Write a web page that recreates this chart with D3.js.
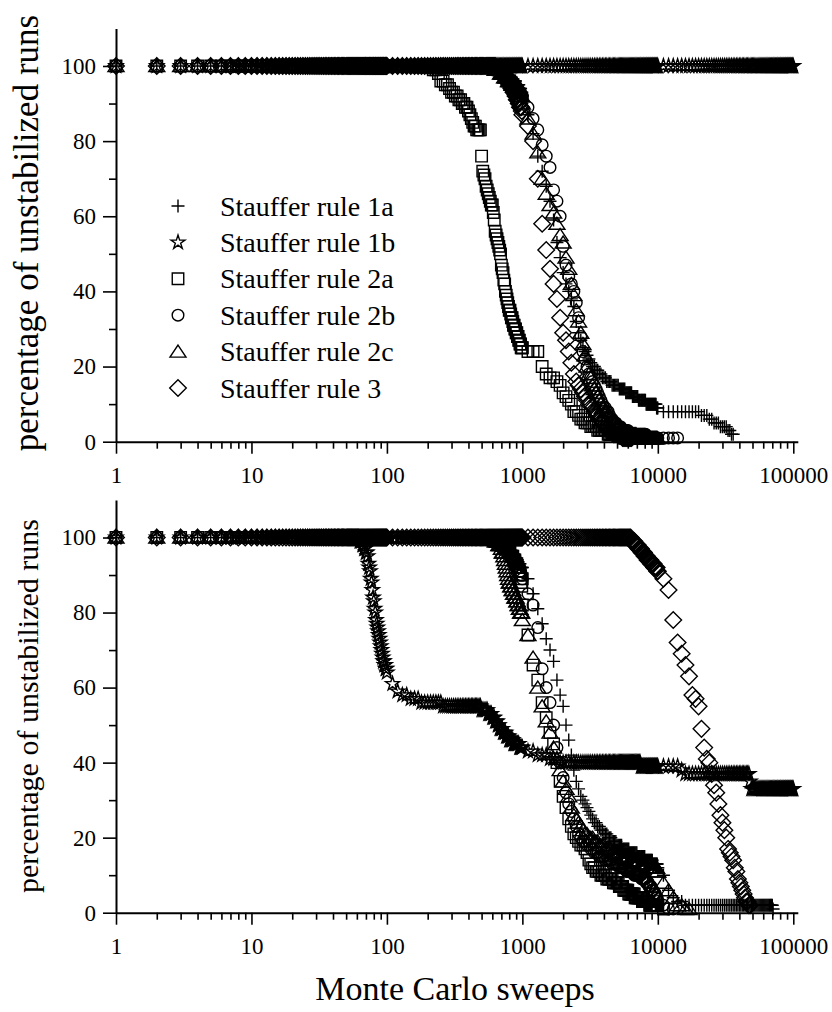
<!DOCTYPE html>
<html>
<head>
<meta charset="utf-8">
<script src="https://cdn.jsdelivr.net/npm/d3@7"></script>
<style>
  body { margin: 0; background: #fff; }
  svg { display: block; }
</style>
</head>
<body>
<div id="chart"></div>
<script>
// Monte Carlo sweeps at which the runs were sampled (step grows tenfold each decade)
const sweeps = [
  1,2,3,4,5,6,7,8,9,
  10,11,12,13,14,15,16,17,18,19,20,21,22,23,24,25,26,27,28,29,
  30,31,32,33,34,35,36,37,38,39,40,41,42,43,44,45,46,47,48,49,
  50,51,52,53,54,55,56,57,58,59,60,61,62,63,64,65,66,67,68,69,
  70,71,72,73,74,75,76,77,78,79,80,81,82,83,84,85,86,87,88,89,
  90,91,92,93,94,95,96,97,98,99,
  100,110,120,130,140,150,160,170,180,190,200,210,220,230,240,250,260,270,280,290,
  300,310,320,330,340,350,360,370,380,390,400,410,420,430,440,450,460,470,480,490,
  500,510,520,530,540,550,560,570,580,590,600,610,620,630,640,650,660,670,680,690,
  700,710,720,730,740,750,760,770,780,790,800,810,820,830,840,850,860,870,880,890,
  900,910,920,930,940,950,960,970,980,990,
  1000,1100,1200,1300,1400,1500,1600,1700,1800,1900,2000,2100,2200,2300,2400,2500,2600,2700,2800,2900,
  3000,3100,3200,3300,3400,3500,3600,3700,3800,3900,4000,4100,4200,4300,4400,4500,4600,4700,4800,4900,
  5000,5100,5200,5300,5400,5500,5600,5700,5800,5900,6000,6100,6200,6300,6400,6500,6600,6700,6800,6900,
  7000,7100,7200,7300,7400,7500,7600,7700,7800,7900,8000,8100,8200,8300,8400,8500,8600,8700,8800,8900,
  9000,9100,9200,9300,9400,9500,9600,9700,9800,9900,
  10000,11000,12000,13000,14000,15000,16000,17000,18000,19000,20000,21000,22000,23000,24000,25000,26000,27000,28000,29000,
  30000,31000,32000,33000,34000,35000,36000,37000,38000,39000,40000,41000,42000,43000,44000,45000,46000,47000,48000,49000,
  50000,51000,52000,53000,54000,55000,56000,57000,58000,59000,60000,61000,62000,63000,64000,65000,66000,67000,68000,69000,
  70000,71000,72000,73000,74000,75000,76000,77000,78000,79000,80000,81000,82000,83000,84000,85000,86000,87000,88000,89000,
  90000,91000,92000,93000,94000,95000,96000,97000,98000,99000,
  100000
];

// ===== upper panel: percentage of unstabilized runs =====
const top1a = [
  100,100,100,100,100,100,100,100,100,
  // 10-99
  100,100,100,100,100,100,100,100,100,100, 100,100,100,100,100,100,100,100,100,100,
  100,100,100,100,100,100,100,100,100,100, 100,100,100,100,100,100,100,100,100,100,
  100,100,100,100,100,100,100,100,100,100, 100,100,100,100,100,100,100,100,100,100,
  100,100,100,100,100,100,100,100,100,100, 100,100,100,100,100,100,100,100,100,100,
  100,100,100,100,100,100,100,100,100,100,
  // 100-990
  100,100,100,100,100,100,100,100,100,100, 100,100,100,100,100,100,100,100,100,100,
  100,100,100,100,100,100,100,100,100,100, 100,100,100,100,100,100,100,100,100,100,
  100,100,100,100,100,100,100,100,100,100, 99,99,99,99,99,99,99,98,98,98,
  98,98,98,98,98,98,97,97,97,97, 97,97,97,97,96,96,96,96,96,96,
  95,95,95,95,95,94,94,94,93,93,
  // 1000-9900
  92,87,82,76,72,68,64,59,53,49, 45,42,40,38,36,32,29,27,25,24,
  23,22,21,20,20,19,19,18,18,17, 17,17,16,16,16,16,15,15,15,15,
  15,15,14,14,14,14,14,14,13,13, 13,13,13,13,13,12,12,12,12,12,
  12,12,11,11,11,11,11,11,11,11, 11,11,10,10,10,10,10,10,10,10,
  10,10,10,10,10,10,10,10,9,9,
  // 10000-
  9,8,8,8,8,8,8,8,8,8, 8,7,7,7,6,6,5,5,5,4,
  4,4,4,3,3,2,2
];
const top1b = [
  100,100,100,100,100,100,100,100,100,
  100,100,100,100,100,100,100,100,100,100, 100,100,100,100,100,100,100,100,100,100,
  100,100,100,100,100,100,100,100,100,100, 100,100,100,100,100,100,100,100,100,100,
  100,100,100,100,100,100,100,100,100,100, 100,100,100,100,100,100,100,100,100,100,
  100,100,100,100,100,100,100,100,100,100, 100,100,100,100,100,100,100,100,100,100,
  100,100,100,100,100,100,100,100,100,100,
  100,100,100,100,100,100,100,100,100,100, 100,100,100,100,100,100,100,100,100,100,
  100,100,100,100,100,100,100,100,100,100, 100,100,100,100,100,100,100,100,100,100,
  100,100,100,100,100,100,100,100,100,100, 100,100,100,100,100,100,100,100,100,100,
  100,100,100,100,100,100,100,100,100,100, 100,100,100,100,100,100,100,100,100,100,
  100,100,100,100,100,100,100,100,100,100,
  100,100,100,100,100,100,100,100,100,100, 100,100,100,100,100,100,100,100,100,100,
  100,100,100,100,100,100,100,100,100,100, 100,100,100,100,100,100,100,100,100,100,
  100,100,100,100,100,100,100,100,100,100, 100,100,100,100,100,100,100,100,100,100,
  100,100,100,100,100,100,100,100,100,100, 100,100,100,100,100,100,100,100,100,100,
  100,100,100,100,100,100,100,100,100,100,
  100,100,100,100,100,100,100,100,100,100, 100,100,100,100,100,100,100,100,100,100,
  100,100,100,100,100,100,100,100,100,100, 100,100,100,100,100,100,100,100,100,100,
  100,100,100,100,100,100,100,100,100,100, 100,100,100,100,100,100,100,100,100,100,
  100,100,100,100,100,100,100,100,100,100, 100,100,100,100,100,100,100,100,100,100,
  100,100,100,100,100,100,100,100,100,100,
  100
];
const top2a = [
  100,100,100,100,100,100,100,100,100,
  100,100,100,100,100,100,100,100,100,100, 100,100,100,100,100,100,100,100,100,100,
  100,100,100,100,100,100,100,100,100,100, 100,100,100,100,100,100,100,100,100,100,
  100,100,100,100,100,100,100,100,100,100, 100,100,100,100,100,100,100,100,100,100,
  100,100,100,100,100,100,100,100,100,100, 100,100,100,100,100,100,100,100,100,100,
  100,100,100,100,100,100,100,100,100,100,
  // 100-990
  100,100,100,100,100,100,100,100,100,100, 100,100,99,99,98,96,96,95,95,94,
  93,93,92,92,91,91,90,90,89,89, 88,87,86,85,84,84,83,83,83,83,
  76,72,71,70,68,67,66,65,64,63, 63,61,59,56,55,54,53,52,51,50,
  47,46,45,43,42,40,39,38,37,36, 35,35,34,33,33,32,31,31,30,30,
  29,29,28,28,27,27,26,26,25,25,
  // 1000-
  25,24,24,24,20,18,17,17,16,15, 13,12,11,10,8,8,7,6,6,5,
  5,5,4,4,4,4,3,3,3,3, 3,3,3,2,2,2,2,2,2,2,
  2,2,2,2,2,2,1,1,1,1, 1,1,1,1,1,1,1,1,1,1,
  1,1,1,1,1,1
];
const top2b = [
  100,100,100,100,100,100,100,100,100,
  100,100,100,100,100,100,100,100,100,100, 100,100,100,100,100,100,100,100,100,100,
  100,100,100,100,100,100,100,100,100,100, 100,100,100,100,100,100,100,100,100,100,
  100,100,100,100,100,100,100,100,100,100, 100,100,100,100,100,100,100,100,100,100,
  100,100,100,100,100,100,100,100,100,100, 100,100,100,100,100,100,100,100,100,100,
  100,100,100,100,100,100,100,100,100,100,
  // 100-990
  100,100,100,100,100,100,100,100,100,100, 100,100,100,100,100,100,100,100,100,100,
  100,100,100,100,100,100,100,100,100,100, 100,100,100,100,100,100,100,100,100,100,
  100,100,100,100,100,100,100,100,100,100, 100,100,100,100,99,99,99,99,99,99,
  98,98,98,98,98,97,97,97,97,97, 96,96,96,96,96,95,95,95,95,95,
  94,94,94,94,93,93,93,93,92,92,
  // 1000-9900
  92,89,86,83,79,76,73,67,64,60, 52,47,44,42,40,37,33,28,24,22,
  20,18,17,16,15,14,13,12,11,10, 9,9,8,8,7,6,6,5,5,5,
  4,4,4,4,3,3,3,3,3,3, 3,2,2,2,2,2,2,2,2,2,
  2,2,2,2,2,2,2,2,2,2, 2,2,1,1,1,1,1,1,1,1,
  1,1,1,1,1,1,1,1,1,1,
  // 10000-
  1,1,1,1,1
];
const top2c = [
  100,100,100,100,100,100,100,100,100,
  100,100,100,100,100,100,100,100,100,100, 100,100,100,100,100,100,100,100,100,100,
  100,100,100,100,100,100,100,100,100,100, 100,100,100,100,100,100,100,100,100,100,
  100,100,100,100,100,100,100,100,100,100, 100,100,100,100,100,100,100,100,100,100,
  100,100,100,100,100,100,100,100,100,100, 100,100,100,100,100,100,100,100,100,100,
  100,100,100,100,100,100,100,100,100,100,
  // 100-990
  100,100,100,100,100,100,100,100,100,100, 100,100,100,100,100,100,100,100,100,100,
  100,100,100,100,100,100,100,100,100,100, 100,100,100,100,100,100,100,100,100,100,
  100,100,100,100,100,100,100,100,100,100, 100,100,100,99,99,99,99,99,99,98,
  98,98,98,98,97,97,97,97,97,96, 96,96,96,96,95,95,95,95,95,94,
  94,94,94,93,93,93,93,92,92,92,
  // 1000-9900
  90,86,82,77,70,66,63,61,58,55, 53,49,46,42,39,35,32,29,26,23,
  20,18,17,15,14,13,12,11,10,9, 9,8,8,7,7,6,6,5,5,5,
  4,4,4,3,3,3,3,3,2,2, 2,2,2,2,2,2,2,2,2,2,
  1,1,1,1,1,1,1,1,1,1, 1,1,1,1,1,1,1,1,1,1,
  1,1,1,1,1,1,1,1,1,1
];
const top3 = [
  100,100,100,100,100,100,100,100,100,
  100,100,100,100,100,100,100,100,100,100, 100,100,100,100,100,100,100,100,100,100,
  100,100,100,100,100,100,100,100,100,100, 100,100,100,100,100,100,100,100,100,100,
  100,100,100,100,100,100,100,100,100,100, 100,100,100,100,100,100,100,100,100,100,
  100,100,100,100,100,100,100,100,100,100, 100,100,100,100,100,100,100,100,100,100,
  100,100,100,100,100,100,100,100,100,100,
  // 100-990
  100,100,100,100,100,100,100,100,100,100, 100,100,100,100,100,100,100,100,100,100,
  100,100,100,100,100,100,100,100,100,100, 100,100,100,100,100,100,100,100,100,100,
  100,100,100,100,100,100,100,100,100,100, 100,100,100,100,99,99,99,99,99,98,
  98,98,98,97,97,97,97,96,96,96, 95,95,95,94,94,94,93,93,93,92,
  92,91,91,91,90,90,89,89,89,88,
  // 1000-
  87,84,80,70,58,51,46,42,38,33, 29,27,24,21,18,16,15,14,13,12,
  11,10,10,9,8,8,7,6,6,5, 5,4,4,3,3,3,3,2,2,2,
  2,2,2,2,2,1,1,1,1,1, 1,1,1,1,1
];

// ===== lower panel =====
const bot1a = [
  100,100,100,100,100,100,100,100,100,
  100,100,100,100,100,100,100,100,100,100, 100,100,100,100,100,100,100,100,100,100,
  100,100,100,100,100,100,100,100,100,100, 100,100,100,100,100,100,100,100,100,100,
  100,100,100,100,100,100,100,100,100,100, 100,100,100,100,100,100,100,100,100,100,
  100,100,100,100,100,100,100,100,100,100, 100,100,100,100,100,100,100,100,100,100,
  100,100,100,100,100,100,100,100,100,100,
  // 100-990
  100,100,100,100,100,100,100,100,100,100, 100,100,100,100,100,100,100,100,100,100,
  100,100,100,100,100,100,100,100,100,100, 100,100,100,100,100,100,100,100,100,100,
  100,100,100,100,100,100,100,100,100,100, 100,100,100,99,99,99,99,99,99,98,
  98,98,98,98,97,97,97,97,97,96, 96,96,96,96,95,95,95,95,95,94,
  94,94,94,93,93,93,93,92,92,92,
  // 1000-9900
  92,89,85,81,77,73,70,67,62,58, 55,50,46,42,38,35,33,31,30,29,
  28,27,26,25,24,24,23,23,22,22, 21,21,21,20,20,20,19,19,19,19,
  18,18,18,18,18,17,17,17,17,17, 17,17,16,16,16,16,16,16,16,16,
  16,15,15,15,15,15,15,15,15,15, 15,14,14,14,14,14,14,14,14,14,
  14,14,13,13,13,13,13,13,13,13,
  // 10000-
  12,10,6,4,3,3,2,2,2,2, 2,2,2,2,2,2,2,2,2,2,
  2,2,2,2,2,2,2,2,2,2, 2,2,2,2,2,2,2,2,2,2,
  2,2,2,2,2,2,2,2,2,2, 2,2,2,2,2,2,2,2,2,2,
  2,1
];
const bot1b = [
  100,100,100,100,100,100,100,100,100,
  // 10-99
  100,100,100,100,100,100,100,100,100,100, 100,100,100,100,100,100,100,100,100,100,
  100,100,100,100,100,100,100,100,100,100, 100,100,100,100,100,100,100,100,100,100,
  100,100,100,100,100,100,100,100,100,100, 100,100,100,99,99,99,98,98,97,97,
  96,96,95,93,92,91,89,88,86,84, 83,81,80,78,77,76,75,74,73,72,
  71,70,69,68,67,67,66,66,65,65,
  // 100-990
  64,61,59,58,58,57,57,57,56,56, 56,56,56,56,56,56,55,55,55,55,
  55,55,55,55,55,55,55,55,55,55, 55,55,55,55,55,55,55,55,55,55,
  54,54,54,54,54,54,53,53,53,53, 52,52,52,51,51,51,50,50,49,49,
  49,49,48,48,48,48,47,47,47,47, 46,46,46,46,46,46,45,45,45,45,
  45,45,45,45,45,44,44,44,44,44,
  // 1000-9900
  44,43,43,42,42,42,41,41,41,40, 40,40,40,40,40,40,40,40,40,40,
  40,40,40,40,40,40,40,40,40,40, 40,40,40,40,40,40,40,40,40,40,
  40,40,40,40,40,40,40,40,40,40, 40,40,40,40,40,40,40,40,40,40,
  40,40,40,40,40,39,39,39,39,39, 39,39,39,39,39,39,39,39,39,39,
  39,39,39,39,39,39,39,39,39,39,
  // 10000-99000
  39,39,39,39,39,38,37,37,37,37, 37,37,37,37,37,37,37,37,37,37,
  37,37,37,37,37,37,37,37,37,37, 37,37,37,37,37,37,37,37,35,33,
  33,33,33,33,33,33,33,33,33,33, 33,33,33,33,33,33,33,33,33,33,
  33,33,33,33,33,33,33,33,33,33, 33,33,33,33,33,33,33,33,33,33,
  33,33,33,33,33,33,33,33,33,33,
  33
];
const bot2a = [
  100,100,100,100,100,100,100,100,100,
  100,100,100,100,100,100,100,100,100,100, 100,100,100,100,100,100,100,100,100,100,
  100,100,100,100,100,100,100,100,100,100, 100,100,100,100,100,100,100,100,100,100,
  100,100,100,100,100,100,100,100,100,100, 100,100,100,100,100,100,100,100,100,100,
  100,100,100,100,100,100,100,100,100,100, 100,100,100,100,100,100,100,100,100,100,
  100,100,100,100,100,100,100,100,100,100,
  // 100-990
  100,100,100,100,100,100,100,100,100,100, 100,100,100,100,100,100,100,100,100,100,
  100,100,100,100,100,100,100,100,100,100, 100,100,100,100,100,100,100,100,100,100,
  100,100,100,100,100,100,100,100,100,100, 100,100,100,99,99,99,99,99,99,98,
  98,98,98,98,97,97,97,97,96,96, 96,96,95,95,95,95,94,94,94,93,
  93,93,92,92,91,91,90,89,88,87,
  // 1000-9900
  82,74,66,62,56,52,48,45,40,35, 31,28,25,23,21,20,19,18,18,17,
  16,14,13,12,12,11,11,11,10,10, 10,10,9,9,9,9,9,8,8,8,
  8,8,7,7,7,7,6,6,6,6, 6,5,5,5,5,5,5,5,4,4,
  4,4,4,4,4,4,4,3,3,3, 3,3,3,3,3,3,3,2,2,2,
  2,2,2,2,2,2,2,2,2,2,
  // 10000-
  2,1
];
const bot2b = [
  100,100,100,100,100,100,100,100,100,
  100,100,100,100,100,100,100,100,100,100, 100,100,100,100,100,100,100,100,100,100,
  100,100,100,100,100,100,100,100,100,100, 100,100,100,100,100,100,100,100,100,100,
  100,100,100,100,100,100,100,100,100,100, 100,100,100,100,100,100,100,100,100,100,
  100,100,100,100,100,100,100,100,100,100, 100,100,100,100,100,100,100,100,100,100,
  100,100,100,100,100,100,100,100,100,100,
  // 100-990
  100,100,100,100,100,100,100,100,100,100, 100,100,100,100,100,100,100,100,100,100,
  100,100,100,100,100,100,100,100,100,100, 100,100,100,100,100,100,100,100,100,100,
  100,100,100,100,100,100,100,100,100,100, 100,100,100,100,99,99,99,99,99,99,
  98,98,98,98,98,97,97,97,97,96, 96,96,96,95,95,95,95,94,94,94,
  93,93,93,92,92,92,91,91,90,90,
  // 1000-9900
  89,85,82,76,65,60,56,50,44,40, 36,32,29,27,25,23,21,20,19,19,
  18,18,17,17,16,16,16,15,15,15, 15,14,14,14,14,14,13,13,13,13,
  13,13,12,12,12,12,12,12,12,11, 11,11,11,11,11,11,11,10,10,10,
  10,10,10,10,10,10,9,9,9,9, 9,9,8,8,8,8,7,7,7,7,
  6,6,6,5,5,5,5,4,4,4,
  // 10000-
  3,2,1,1
];
const bot2c = [
  100,100,100,100,100,100,100,100,100,
  100,100,100,100,100,100,100,100,100,100, 100,100,100,100,100,100,100,100,100,100,
  100,100,100,100,100,100,100,100,100,100, 100,100,100,100,100,100,100,100,100,100,
  100,100,100,100,100,100,100,100,100,100, 100,100,100,100,100,100,100,100,100,100,
  100,100,100,100,100,100,100,100,100,100, 100,100,100,100,100,100,100,100,100,100,
  100,100,100,100,100,100,100,100,100,100,
  // 100-990
  100,100,100,100,100,100,100,100,100,100, 100,100,100,100,100,100,100,100,100,100,
  100,100,100,100,100,100,100,100,100,100, 100,100,100,100,100,100,100,100,100,100,
  100,100,100,100,100,100,100,100,100,100, 100,100,100,99,99,99,99,98,98,98,
  97,96,96,95,94,93,92,91,90,89, 88,88,87,87,86,86,85,85,84,84,
  84,83,83,82,82,81,81,80,80,80,
  // 1000-9900
  78,74,68,60,55,51,48,44,41,38, 35,33,31,28,26,25,24,23,22,21,
  21,20,20,20,19,19,19,18,18,18, 18,17,17,17,17,17,16,16,16,16,
  16,16,16,15,15,15,15,15,15,15, 15,15,14,14,14,14,14,14,14,14,
  14,14,14,14,14,13,13,13,13,13, 13,13,13,13,13,12,12,12,12,12,
  12,12,12,12,12,12,12,12,12,11,
  // 10000-
  11,8,6,4,2,2,1,1
];
const bot3 = [
  100,100,100,100,100,100,100,100,100,
  100,100,100,100,100,100,100,100,100,100, 100,100,100,100,100,100,100,100,100,100,
  100,100,100,100,100,100,100,100,100,100, 100,100,100,100,100,100,100,100,100,100,
  100,100,100,100,100,100,100,100,100,100, 100,100,100,100,100,100,100,100,100,100,
  100,100,100,100,100,100,100,100,100,100, 100,100,100,100,100,100,100,100,100,100,
  100,100,100,100,100,100,100,100,100,100,
  // 100-990
  100,100,100,100,100,100,100,100,100,100, 100,100,100,100,100,100,100,100,100,100,
  100,100,100,100,100,100,100,100,100,100, 100,100,100,100,100,100,100,100,100,100,
  100,100,100,100,100,100,100,100,100,100, 100,100,100,100,100,100,100,100,100,100,
  100,100,100,100,100,100,100,100,100,100, 100,100,100,100,100,100,100,100,100,100,
  100,100,100,100,100,100,100,100,100,100,
  // 1000-9900
  100,100,100,100,100,100,100,100,100,100, 100,100,100,100,100,100,100,100,100,100,
  100,100,100,100,100,100,100,100,100,100, 100,100,100,100,100,100,100,100,100,100,
  100,100,100,100,100,100,100,100,100,100, 100,100,100,100,99,99,99,99,98,98,
  98,98,97,97,97,97,96,96,96,96, 95,95,95,95,94,94,94,94,94,93,
  93,93,93,93,92,92,92,92,92,91,
  // 10000-
  91,89,86,78,72,69,66,63,58,57, 55,49,44,41,40,37,34,32,29,26,
  24,22,20,17,16,15,14,12,11,9, 8,7,6,5,4,3,3,2,2
];

const legendLabels = ["Stauffer rule 1a", "Stauffer rule 1b", "Stauffer rule 2a",
                      "Stauffer rule 2b", "Stauffer rule 2c", "Stauffer rule 3"];
const xTicks = [1, 10, 100, 1000, 10000, 100000];
const yTicks = [0, 20, 40, 60, 80, 100];
const yMinor = [10, 30, 50, 70, 90];

const width = 832, height = 1012;
const serif = '"Liberation Serif", "Times New Roman", Times, serif';

const svg = d3.select("#chart").append("svg")
  .attr("width", width)
  .attr("height", height)
  .attr("font-family", serif);
svg.append("rect").attr("width", width).attr("height", height).attr("fill", "#fff");

const x = d3.scaleLog()
  .domain([1, 108000])
  .range([116, 797.8]);

// marker shapes, one per rule
const shapes = [
  "M-6.5,0H6.5M0,-6.5V6.5",
  d3.symbol(d3.symbolStar, 60)(),
  d3.symbol(d3.symbolSquare, 132)(),
  d3.symbol(d3.symbolCircle, 106)(),
  "M0,-6.5L8,5.5L-8,5.5Z",
  "M0,-8.3L8.3,0L0,8.3L-8.3,0Z"
];
const markStroke = 1.4;

const xMinor = [];
for (let k = 0; k < 5; k++) for (let m = 2; m < 10; m++) xMinor.push(m * Math.pow(10, k));

const panels = [
  {top: 28.4, bottom: 441.7, series: [top1a, top1b, top2a, top2b, top2c, top3],
   title: 35, titleY: 233, legend: true},
  {top: 500, bottom: 912.7, series: [bot1a, bot1b, bot2a, bot2b, bot2c, bot3],
   title: 30, titleY: 706, legend: false}
];

panels.forEach(p => {
  const y = d3.scaleLinear().domain([0, 110]).range([p.bottom, p.top]);
  const g = svg.append("g");

  // data markers
  p.series.forEach((vals, k) => {
    const pts = sweeps.map((s, i) => ({x: s, y: vals[i]})).filter(d => d.y != null);
    g.append("g").selectAll("path")
      .data(pts)
      .join("path")
      .attr("transform", d => `translate(${x(d.x)},${y(d.y)})`)
      .attr("d", shapes[k])
      .attr("fill", "none")
      .attr("stroke", "#000")
      .attr("stroke-width", markStroke);
  });

  // x axis
  g.append("g")
    .attr("transform", `translate(0,${p.bottom})`)
    .call(d3.axisBottom(x).tickValues(xTicks).tickSize(12).tickSizeOuter(0)
      .tickPadding(13).tickFormat(d3.format("d")));
  g.append("g")
    .attr("transform", `translate(0,${p.bottom})`)
    .call(d3.axisBottom(x).tickValues(xMinor).tickSize(7).tickSizeOuter(0).tickFormat(""))
    .select(".domain").remove();

  // y axis
  g.append("g")
    .attr("transform", "translate(116,0)")
    .call(d3.axisLeft(y).tickValues(yTicks).tickSize(13).tickSizeOuter(0).tickPadding(7));
  g.append("g")
    .attr("transform", "translate(116,0)")
    .call(d3.axisLeft(y).tickValues(yMinor).tickSize(7).tickSizeOuter(0).tickFormat(""))
    .select(".domain").remove();

  g.selectAll(".domain").attr("stroke", "#000").attr("stroke-width", 2);
  g.selectAll(".tick line").attr("stroke", "#000").attr("stroke-width", 1.6);
  g.selectAll(".tick text")
    .attr("fill", "#000")
    .attr("font-family", serif)
    .attr("font-size", 23);

  // y title
  g.append("text")
    .attr("transform", `translate(38,${p.titleY}) rotate(-90)`)
    .attr("text-anchor", "middle")
    .attr("font-family", serif)
    .attr("font-size", p.title)
    .attr("fill", "#000")
    .text("percentage of unstabilized runs");

  if (p.legend) {
    const lg = g.append("g");
    legendLabels.forEach((lab, i) => {
      const ly = 206 + i * 36.4;
      lg.append("path")
        .attr("transform", `translate(178,${ly})`)
        .attr("d", shapes[i])
        .attr("fill", "none")
        .attr("stroke", "#000")
        .attr("stroke-width", 1.4);
      lg.append("text")
        .attr("x", 220)
        .attr("y", ly + 9.5)
        .attr("font-family", serif)
        .attr("font-size", 28)
        .attr("fill", "#000")
        .text(lab);
    });
  }
});

// x title
svg.append("text")
  .attr("x", 455)
  .attr("y", 1000)
  .attr("text-anchor", "middle")
  .attr("font-family", serif)
  .attr("font-size", 34)
  .attr("fill", "#000")
  .text("Monte Carlo sweeps");
</script>
</body>
</html>
